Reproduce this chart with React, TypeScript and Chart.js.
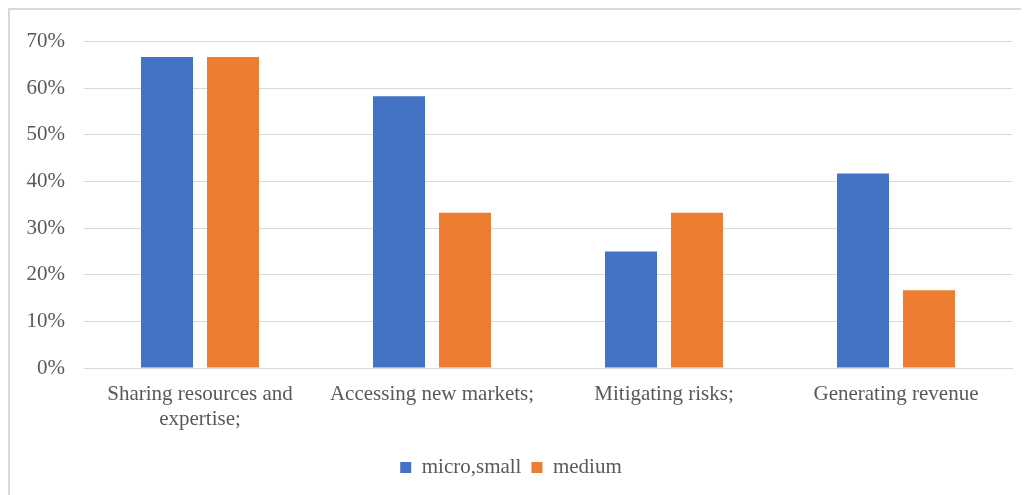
import React, { useEffect, useRef } from "react";
import { Chart, registerables } from "chart.js";

Chart.register(...registerables);

const categories: (string | string[])[] = [
  ["Sharing resources and", "expertise;"],
  "Accessing new markets;",
  "Mitigating risks;",
  "Generating revenue",
];
const microSmall = [66.7, 58.3, 25.0, 41.7];
const medium = [66.7, 33.3, 33.3, 16.7];
const seriesNames = ["micro,small", "medium"];

const FONT = "'Liberation Serif', 'Times New Roman', serif";
const TEXT = "#595959";
const GRID = "#d9d9d9";

export default function App() {
  const ref = useRef<HTMLCanvasElement | null>(null);

  useEffect(() => {
    document.documentElement.style.overflow = "hidden";
    const canvas = ref.current;
    if (!canvas) return;
    const chart = new Chart(canvas, {
      type: "bar",
      data: {
        labels: categories,
        datasets: [
          {
            label: seriesNames[0],
            data: microSmall,
            backgroundColor: "#4472C4",
            categoryPercentage: 0.569,
            barPercentage: 0.788,
          },
          {
            label: seriesNames[1],
            data: medium,
            backgroundColor: "#ED7D31",
            categoryPercentage: 0.569,
            barPercentage: 0.788,
          },
        ],
      },
      options: {
        responsive: false,
        animation: false,
        layout: { padding: { left: 0, right: 9, top: 28, bottom: 7 } },
        plugins: {
          tooltip: { enabled: false },
          legend: {
            position: "bottom",
            labels: {
              boxWidth: 11,
              boxHeight: 11,
              padding: 10,
              color: TEXT,
              font: { family: FONT, size: 21 },
            },
          },
        },
        scales: {
          x: {
            grid: { display: false, drawTicks: false },
            border: { display: true, color: GRID, width: 1 },
            ticks: {
              color: TEXT,
              font: { family: FONT, size: 21 },
              padding: 14,
              maxRotation: 0,
              autoSkip: false,
            },
            afterFit: (scale: any) => {
              scale.height = 79;
            },
          },
          y: {
            min: 0,
            max: 70,
            grid: { color: GRID, lineWidth: 1, drawTicks: false },
            border: { display: false },
            ticks: {
              stepSize: 10,
              color: TEXT,
              font: { family: FONT, size: 21 },
              padding: 19,
              callback: (v: any) => `${v}%`,
            },
            afterFit: (scale: any) => {
              scale.width = 74;
            },
          },
        },
      },
    });
    return () => chart.destroy();
  }, []);

  return (
    <div
      style={{
        borderTop: `2px solid ${GRID}`,
        borderLeft: `2px solid ${GRID}`,
        width: 1011,
        height: 485,
        background: "#fff",
      }}
    >
      <canvas ref={ref} width={1011} height={485} style={{ display: "block" }} />
    </div>
  );
}
